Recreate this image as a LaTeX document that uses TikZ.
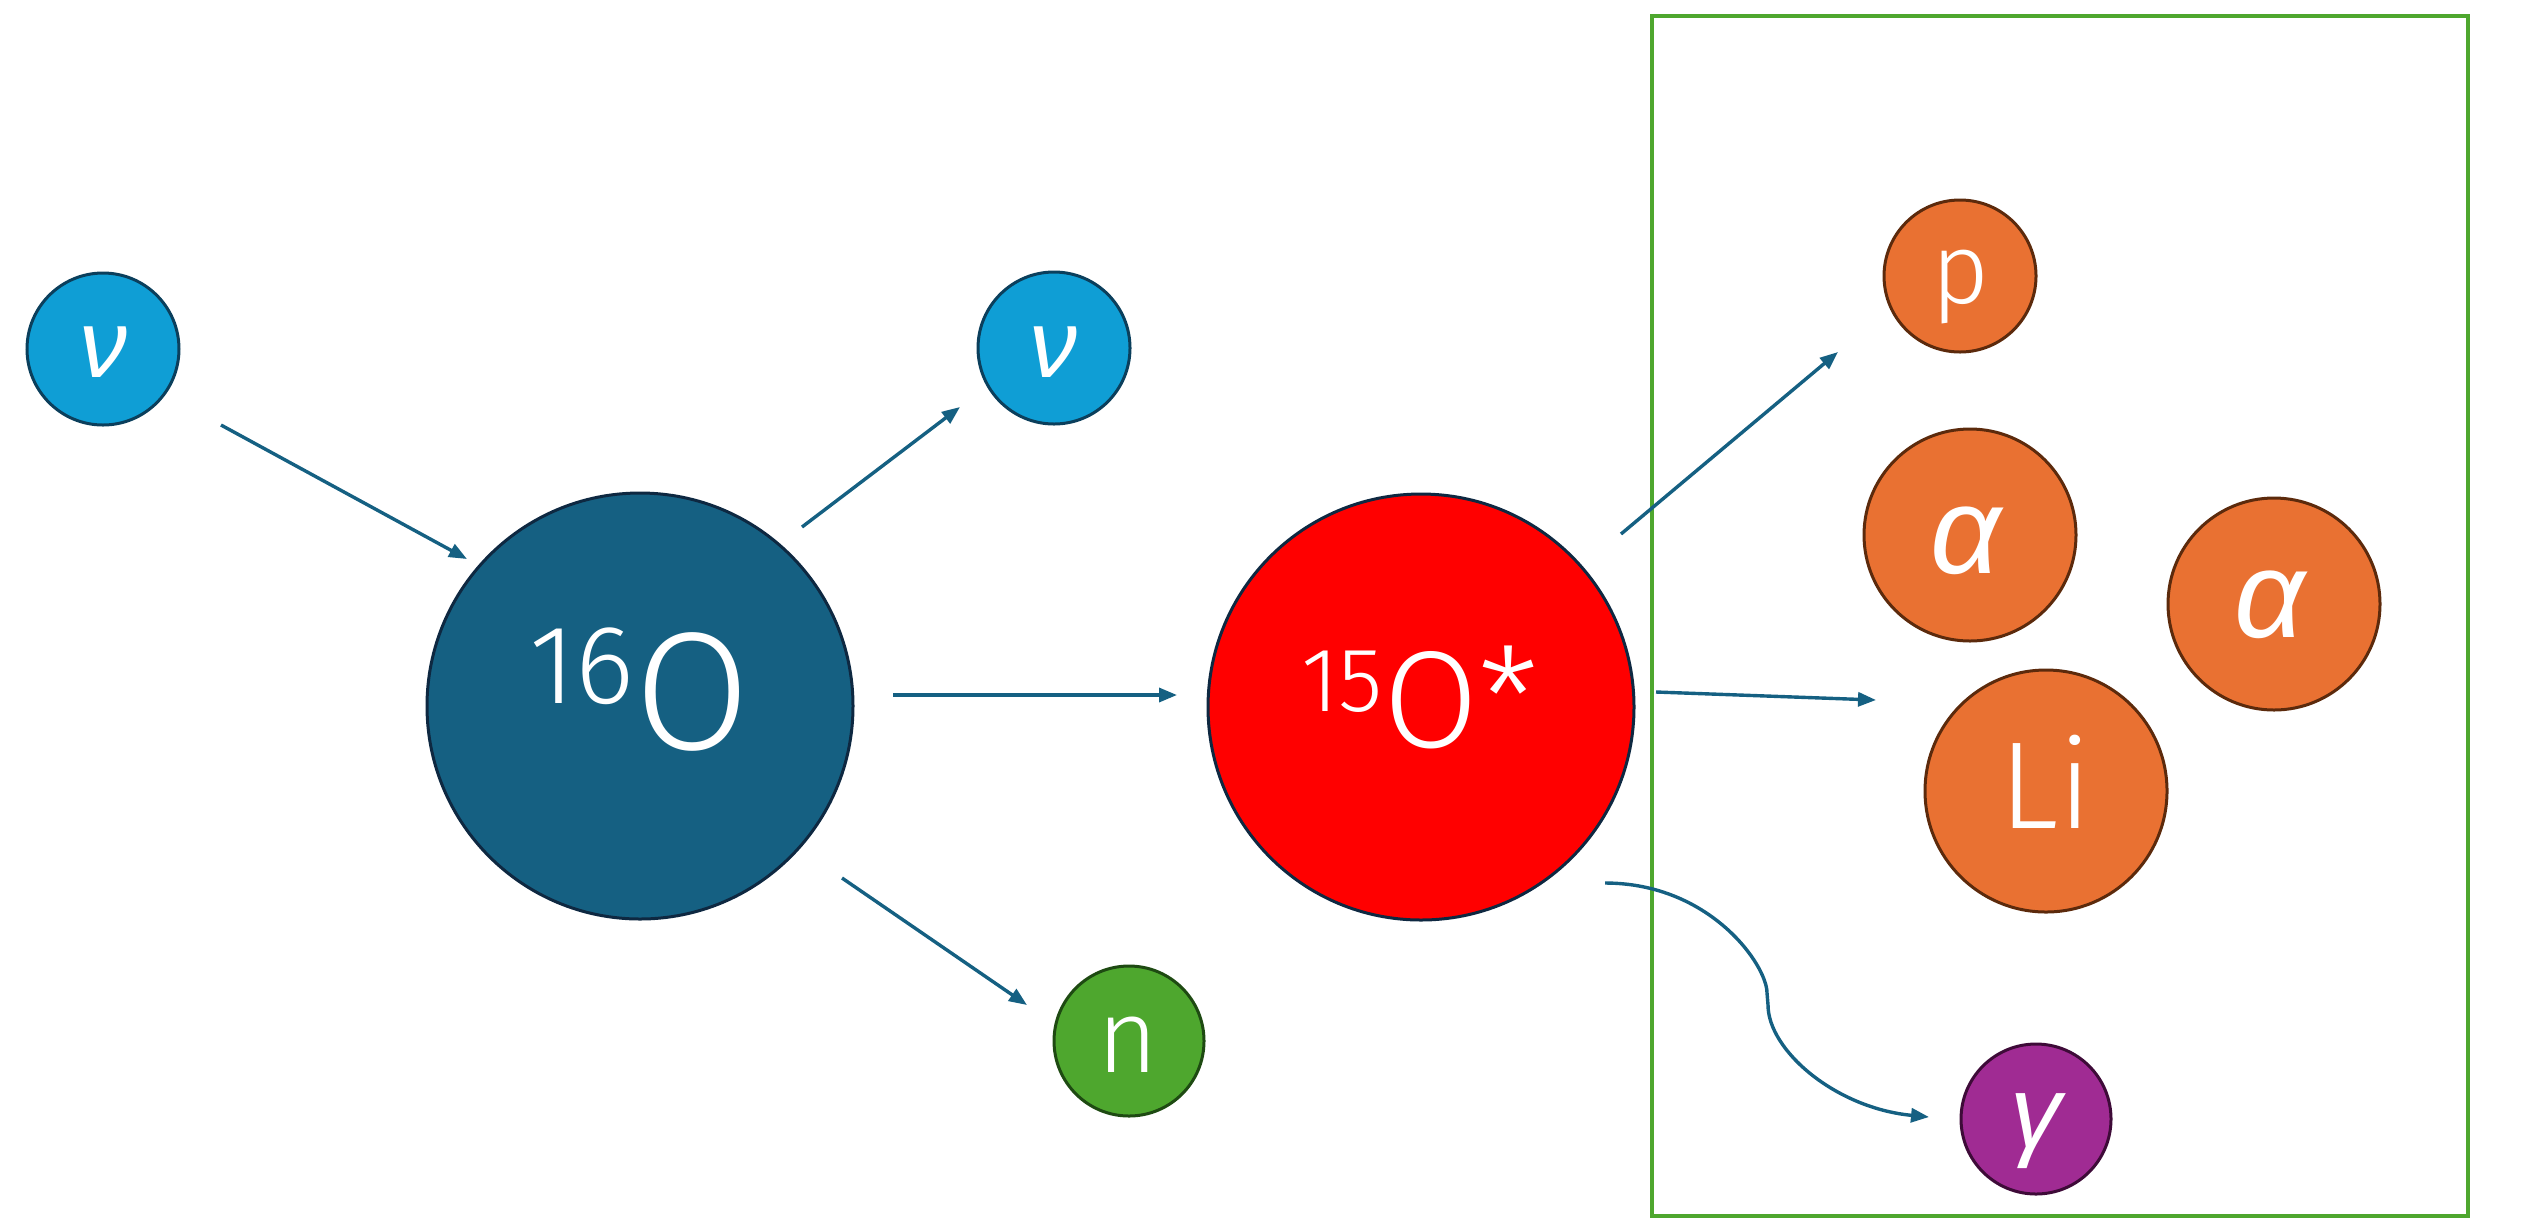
\documentclass[tikz,border=0pt]{standalone}
\usepackage{fontspec}
\IfFontExistsTF{Fira Sans Light}{\setmainfont{Fira Sans Light}}{%
  \IfFontExistsTF{Open Sans Light}{\setmainfont{Open Sans Light}}{%
    \setmainfont{Open Sans}}}
\newfontfamily\grk{Liberation Sans}
\usetikzlibrary{arrows.meta}

\definecolor{nufill}{HTML}{0F9ED5}
\definecolor{nuline}{HTML}{0B3F5C}
\definecolor{oxyfill}{HTML}{156082}
\definecolor{darkline}{HTML}{0E2841}
\definecolor{hotred}{HTML}{FF0000}
\definecolor{neutron}{HTML}{4EA72E}
\definecolor{neutronline}{HTML}{1E4A12}
\definecolor{frag}{HTML}{E97132}
\definecolor{fragline}{HTML}{5C2A0C}
\definecolor{gam}{HTML}{A02B93}
\definecolor{gamline}{HTML}{3E0B38}
\definecolor{flowc}{HTML}{156082}
\definecolor{framec}{HTML}{4EA72E}

\newcommand{\fsz}[1]{\fontsize{#1}{#1}\selectfont}

\begin{document}
\begin{tikzpicture}[x=0.5pt,y=-0.5pt,
  ball/.style={circle, draw, line width=1.5pt, inner sep=0pt},
  lbl/.style={text=white, inner sep=0pt},
  glbl/.style={lbl, font=\grk\itshape\fsz{#1}},
  flow/.style={draw=flowc, line width=1.7pt, -{Triangle[length=9pt,width=7pt]}}]

\useasboundingbox (0,0) rectangle (2535,1222);

% detection volume
\draw[framec, line width=2pt] (1652,16) rectangle (2468,1216);

% particles
\node[ball, fill=nufill, draw=nuline, minimum size=76pt] (nuin) at (103,349) {};
\node[glbl=48] (nuinT) at (103,352) {ν};

\node[ball, fill=oxyfill, draw=darkline, minimum size=213pt] (oxy) at (640,706) {};
\node[lbl] (oxyT) at (640,690) {\fsz{56}\raisebox{23pt}{16}\fsz{84}O};

\node[ball, fill=nufill, draw=nuline, minimum size=76pt] (nuout) at (1054,348) {};
\node[glbl=48] (nuoutT) at (1053,352) {ν};

\node[ball, fill=neutron, draw=neutronline, minimum size=75pt] (neu) at (1129,1041) {};
\node[lbl, font=\fsz{52}] (neuT) at (1128,1045) {n};

\node[ball, fill=hotred, draw=darkline, minimum size=213pt] (exc) at (1421,707) {};
\node[lbl] (excT) at (1420,697) {\fsz{45.5}\raisebox{18pt}{15}\fsz{69}O*};

\node[ball, fill=frag, draw=fragline, minimum size=76pt] (pro) at (1960,276) {};
\node[lbl, font=\fsz{50}] (proT) at (1961,287) {p};

\node[ball, fill=frag, draw=fragline, minimum size=106pt] (alA) at (1970,535) {};
\node[glbl=62] (alAT) at (1966,541) {α};

\node[ball, fill=frag, draw=fragline, minimum size=106pt] (alB) at (2274,604) {};
\node[glbl=62] (alBT) at (2270,605) {α};

\node[ball, fill=frag, draw=fragline, minimum size=121pt] (lit) at (2046,791) {};
\node[lbl, font=\fsz{62}] (litT) at (2046,782) {Li};

\node[ball, fill=gam, draw=gamline, minimum size=75pt] (gam) at (2036,1119) {};
\node[glbl=51] (gamT) at (2036,1131) {γ};

% connector ends
\coordinate (a1s) at (221,425);  \coordinate (a1e) at (467,559);
\coordinate (a2s) at (802,527);  \coordinate (a2e) at (960,407);
\coordinate (a3s) at (893,695);  \coordinate (a3e) at (1177,695);
\coordinate (a4s) at (842,878);  \coordinate (a4e) at (1027,1005);
\coordinate (a5s) at (1621,534); \coordinate (a5e) at (1838,352);
\coordinate (a6s) at (1656,692); \coordinate (a6e) at (1876,700);
\coordinate (a7s) at (1605,883); \coordinate (a7e) at (1929,1117);

% reaction flow
\draw[flow] (a1s) -- (a1e);
\draw[flow] (a2s) -- (a2e);
\draw[flow] (a3s) -- (a3e);
\draw[flow] (a4s) -- (a4e);
\draw[flow] (a5s) -- (a5e);
\draw[flow] (a6s) -- (a6e);
\draw[flow] (a7s) .. controls (1710,883) and (1767,965) .. (1767,993)
  -- (1768,1005) .. controls (1768,1050) and (1835,1108) .. (a7e);
\end{tikzpicture}
\end{document}
